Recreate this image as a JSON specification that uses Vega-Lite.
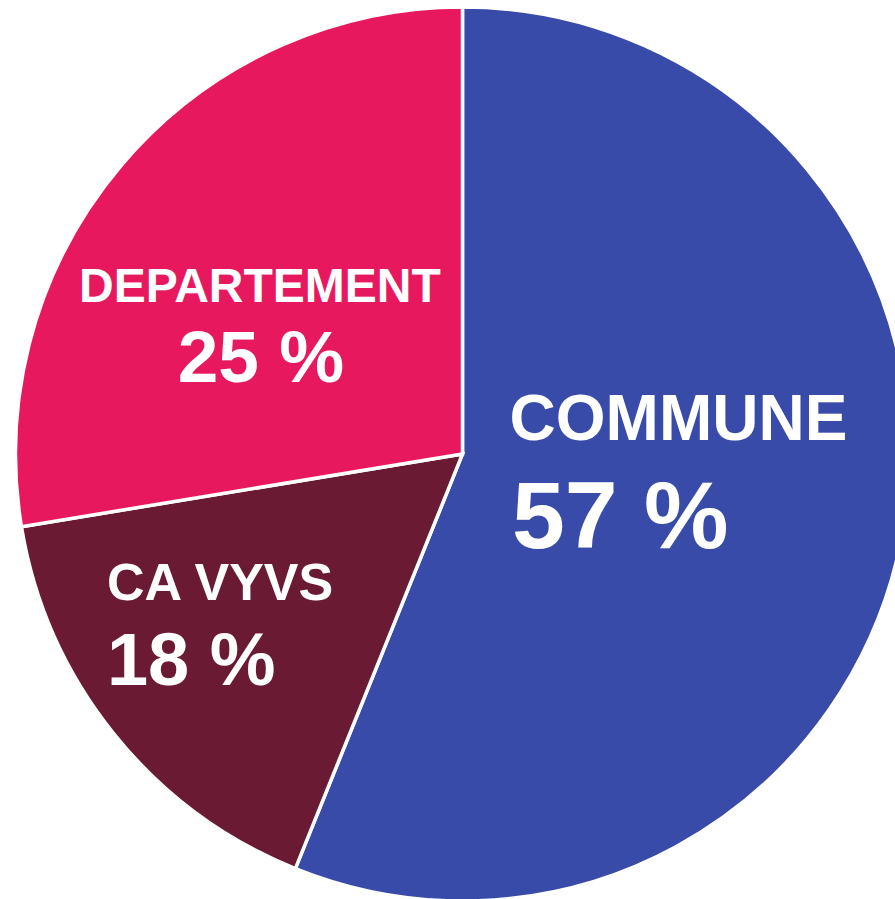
{
  "$schema": "https://vega.github.io/schema/vega-lite/v6.json",
  "autosize": {"type": "none"},
  "width": 865,
  "height": 890,
  "padding": {"left": 30, "top": 9, "right": 0, "bottom": 0},
  "background": "white",
  "config": {"view": {"stroke": null}},
  "data": {
    "values": [
      {"cat": "COMMUNE", "value": 56.1, "pct": "57 %", "order": 1},
      {"cat": "CA VYVS", "value": 16.3, "pct": "18 %", "order": 2},
      {"cat": "DEPARTEMENT", "value": 27.6, "pct": "25 %", "order": 3}
    ]
  },
  "encoding": {
    "theta": {"field": "value", "type": "quantitative", "stack": true},
    "order": {"field": "order", "type": "quantitative"}
  },
  "layer": [
    {
      "mark": {"type": "arc", "outerRadius": 447, "stroke": "white", "strokeWidth": 3.5},
      "encoding": {
        "color": {
          "field": "cat",
          "type": "nominal",
          "scale": {"domain": ["COMMUNE", "CA VYVS", "DEPARTEMENT"], "range": ["#394BA9", "#6A1A33", "#E8185E"]},
          "legend": null
        }
      }
    },
    {
      "mark": {"type": "text", "radius": 220, "align": "center", "baseline": "alphabetic", "dx": 0, "dy": -55.6, "fontSize": 64, "fontWeight": "bold", "font": "Liberation Sans", "color": "white"},
      "encoding": {"text": {"condition": {"test": "datum.cat === 'COMMUNE'", "field": "cat"}, "value": ""}}
    },
    {
      "mark": {"type": "text", "radius": 220, "align": "left", "baseline": "alphabetic", "dx": -166.5, "dy": 52.4, "fontSize": 95, "fontWeight": "bold", "font": "Liberation Sans", "color": "white"},
      "encoding": {"text": {"condition": {"test": "datum.cat === 'COMMUNE'", "field": "pct"}, "value": ""}}
    },
    {
      "mark": {"type": "text", "radius": 290, "align": "left", "baseline": "alphabetic", "dx": -129.3, "dy": -35.5, "fontSize": 52, "fontWeight": "bold", "font": "Liberation Sans", "color": "white"},
      "encoding": {"text": {"condition": {"test": "datum.cat === 'CA VYVS'", "field": "cat"}, "value": ""}}
    },
    {
      "mark": {"type": "text", "radius": 290, "align": "left", "baseline": "alphabetic", "dx": -129.3, "dy": 49.5, "fontSize": 74, "fontWeight": "bold", "font": "Liberation Sans", "color": "white"},
      "encoding": {"text": {"condition": {"test": "datum.cat === 'CA VYVS'", "field": "pct"}, "value": ""}}
    },
    {
      "mark": {"type": "text", "radius": 240, "align": "center", "baseline": "alphabetic", "dx": -19.6, "dy": 3.4, "fontSize": 48, "fontWeight": "bold", "font": "Liberation Sans", "color": "white"},
      "encoding": {"text": {"condition": {"test": "datum.cat === 'DEPARTEMENT'", "field": "cat"}, "value": ""}}
    },
    {
      "mark": {"type": "text", "radius": 240, "align": "center", "baseline": "alphabetic", "dx": -18.6, "dy": 83.4, "fontSize": 73, "fontWeight": "bold", "font": "Liberation Sans", "color": "white"},
      "encoding": {"text": {"condition": {"test": "datum.cat === 'DEPARTEMENT'", "field": "pct"}, "value": ""}}
    }
  ]
}
